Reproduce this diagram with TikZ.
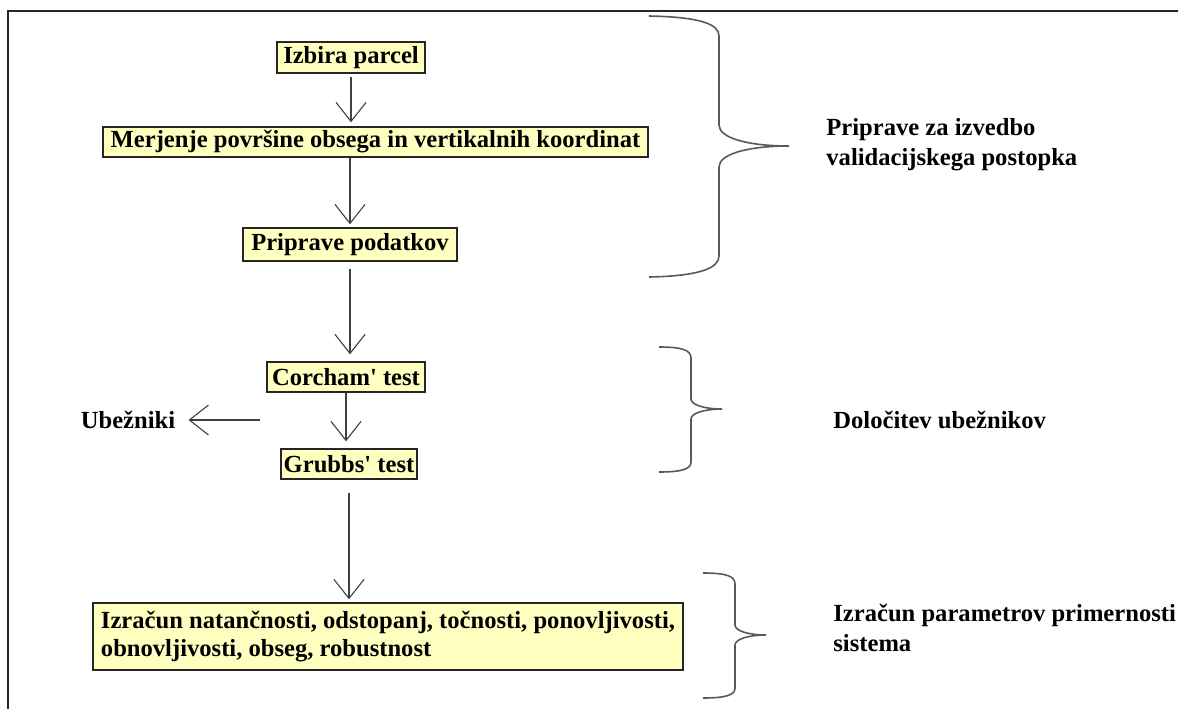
\documentclass[tikz,border=0pt]{standalone}
\usepackage{fontspec}
\setmainfont{Liberation Serif}
\usetikzlibrary{arrows.meta}
\definecolor{boxyellow}{RGB}{255,255,192}
\begin{document}
\begin{tikzpicture}[x=0.5pt,y=-0.5pt,
  txt/.style={font=\fontsize{12.3}{15}\selectfont\bfseries},
  box/.style={txt, draw=black!85, line width=0.7pt, fill=boxyellow, inner sep=0pt},
  lbl/.style={txt, inner sep=0pt, anchor=west, align=left},
  arr/.style={draw=black!75, line width=0.55pt, -{Straight Barb[length=9.5pt,width=15pt]}},
  brace/.style={draw=black!65, line width=0.8pt},
]
\useasboundingbox (0,0) rectangle (1178,709);
\fill[white] (0,0) rectangle (1178,709);
% frame
\draw[black!85, line width=0.8pt] (8,709) -- (8,11) -- (1178,11);

% boxes
\node[box, minimum width=74pt, minimum height=15.5pt] (b1) at (351,57.5) {Izbira parcel};
\node[box, minimum width=272.5pt, minimum height=15pt] (b2) at (375.5,142) {Merjenje površine obsega in vertikalnih koordinat};
\node[box, minimum width=107pt, minimum height=16.5pt] (b3) at (350,244.5) {Priprave podatkov};
\node[box, minimum width=79pt, minimum height=15pt] (b4) at (346,377) {Corcham\textquotesingle{} test};
\node[box, minimum width=68pt, minimum height=15pt] (b5) at (349,464) {Grubbs\textquotesingle{} test};
\node[box, minimum width=295pt, minimum height=33.5pt, align=left,
      font=\fontsize{12.3}{14}\selectfont\bfseries] (b6) at (388,636.5)
  {Izračun natančnosti, odstopanj, točnosti, ponovljivosti,\\obnovljivosti, obseg, robustnost};

% arrows
\draw[arr, shorten <=1.5pt, shorten >=2pt] (b1.south) -- (b1.south |- b2.north);
\draw[arr, shorten >=1.5pt] (b3.north |- b2.south) -- (b3.north);
\draw[arr, shorten <=3.5pt, shorten >=3.5pt] (b3.south) -- (b3.south |- b4.north);
\draw[arr, shorten >=3.5pt] (b4.south) -- (b4.south |- b5.north);
\draw[arr, shorten <=6.5pt, shorten >=1.5pt] (b5.south) -- (b5.south |- b6.north);

% outlier arrow
\node[txt, inner ysep=0pt, inner xsep=6.5pt] (ub) at (128,420) {Ubežniki};
\coordinate (u0) at (260,420);
\draw[arr] (u0) -- (ub.east);

% braces
\draw[brace] (649,16) .. controls (700,17) and (719,24) .. (719,36) -- (719,125)
  .. controls (719,138) and (748,146) .. (789,146)
  .. controls (748,146) and (719,154) .. (719,167) -- (719,256)
  .. controls (719,268) and (700,276) .. (649,277);
\draw[brace] (659,347) .. controls (682,347) and (691,350) .. (691,358) -- (691,399)
  .. controls (691,405) and (705,409) .. (722,409)
  .. controls (705,409) and (691,413) .. (691,419) -- (691,462)
  .. controls (691,469) and (682,472) .. (659,472);
\draw[brace] (703,573) .. controls (726,573) and (735,576) .. (735,584) -- (735,625)
  .. controls (735,631) and (749,635) .. (766,635)
  .. controls (749,635) and (735,639) .. (735,645) -- (735,688)
  .. controls (735,695) and (726,698) .. (703,698);

% brace labels
\node[lbl] (l1) at (826,145) {Priprave za izvedbo\\validacijskega postopka};
\node[lbl] (l2) at (833,420) {Določitev ubežnikov};
\node[lbl] (l3) at (833,628) {Izračun parametrov primernosti\\sistema};
\end{tikzpicture}
\end{document}
